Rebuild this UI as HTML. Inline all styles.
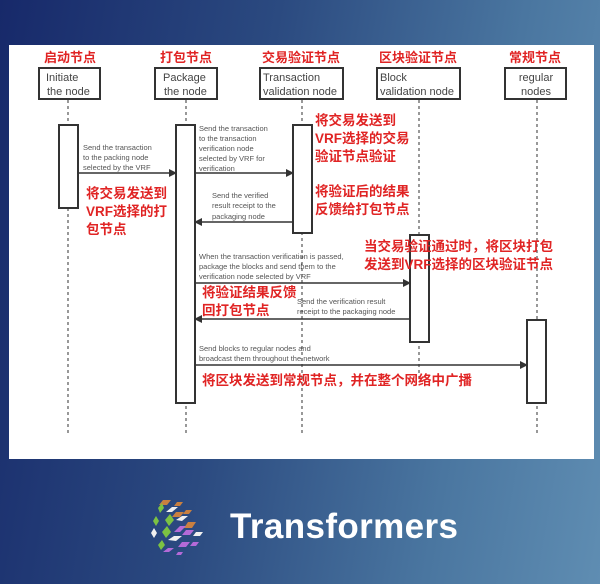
<!DOCTYPE html>
<html><head><meta charset="utf-8"><style>
html,body{margin:0;padding:0}
body{width:600px;height:584px;overflow:hidden;position:relative;background:linear-gradient(100deg,#17296a 0%,#2b4a80 40%,#4a76a0 75%,#5f8db2 100%);font-family:"Liberation Sans","Noto Sans CJK SC",sans-serif}
.panel{position:absolute;left:9px;top:45px;width:585px;height:414px;background:#fff}
svg{position:absolute;left:0;top:0}
</style></head><body>
<div class="panel"></div>
<svg width="600" height="584" viewBox="0 0 600 584">
<defs><marker id="a" markerWidth="8" markerHeight="8" refX="7" refY="4" orient="auto" markerUnits="userSpaceOnUse"><path d="M0,0 L8,4 L0,8 z" fill="#333"/></marker></defs>
<g font-family="Liberation Sans, Noto Sans CJK SC, sans-serif" font-weight="bold" fill="#e02424" font-size="13" text-anchor="middle">
<text x="70" y="62">启动节点</text><text x="186" y="62">打包节点</text><text x="301" y="62">交易验证节点</text><text x="418" y="62">区块验证节点</text><text x="535" y="62">常规节点</text>
</g>
<g stroke="#333" stroke-width="2" fill="#fff">
<rect x="39" y="68" width="61" height="31"/><rect x="155" y="68" width="62" height="31"/><rect x="260" y="68" width="83" height="31"/><rect x="377" y="68" width="83" height="31"/><rect x="505" y="68" width="61" height="31"/>
</g>
<g font-size="11" fill="#444">
<text x="46" y="81">Initiate</text><text x="47" y="95">the node</text>
<text x="163" y="81">Package</text><text x="164" y="95">the node</text>
<text x="263" y="81">Transaction</text><text x="263" y="95">validation node</text>
<text x="380" y="81">Block</text><text x="380" y="95">validation node</text>
<text x="536" y="81" text-anchor="middle">regular</text><text x="536" y="95" text-anchor="middle">nodes</text>
</g>
<g stroke="#555" stroke-width="1.2" stroke-dasharray="3,3">
<line x1="68" y1="100" x2="68" y2="436"/><line x1="186" y1="100" x2="186" y2="436"/><line x1="302" y1="100" x2="302" y2="436"/><line x1="419" y1="100" x2="419" y2="380"/><line x1="537" y1="100" x2="537" y2="436"/>
</g>
<g stroke="#333" stroke-width="2" fill="#fff">
<rect x="59" y="125" width="19" height="83"/><rect x="176" y="125" width="19" height="278"/><rect x="293" y="125" width="19" height="108"/><rect x="410" y="235" width="19" height="107"/><rect x="527" y="320" width="19" height="83"/>
</g>
<g stroke="#333" stroke-width="1.5" marker-end="url(#a)">
<line x1="79" y1="173" x2="176" y2="173"/><line x1="195" y1="173" x2="293" y2="173"/><line x1="293" y1="222" x2="195" y2="222"/><line x1="195" y1="283" x2="410" y2="283"/><line x1="410" y1="319" x2="195" y2="319"/><line x1="195" y1="365" x2="527" y2="365"/>
</g>
<g font-size="7.5" fill="#555">
<text x="83" y="150">Send the transaction</text><text x="83" y="160">to the packing node</text><text x="83" y="170">selected by the VRF</text>
<text x="199" y="131">Send the transaction</text><text x="199" y="141">to the transaction</text><text x="199" y="151">verification node</text><text x="199" y="161">selected by VRF for</text><text x="199" y="171">verification</text>
<text x="212" y="198">Send the verified</text><text x="212" y="208">result receipt to the</text><text x="212" y="219">packaging node</text>
<text x="199" y="259">When the transaction verification is passed,</text><text x="199" y="269">package the blocks and send them to the</text><text x="199" y="279">verification node selected by VRF</text>
<text x="297" y="304">Send the verification result</text><text x="297" y="314">receipt to the packaging node</text>
<text x="199" y="351">Send blocks to regular nodes and</text><text x="199" y="361">broadcast them throughout the network</text>
</g>
<g font-family="Liberation Sans, Noto Sans CJK SC, sans-serif" font-weight="bold" fill="#e02424" font-size="13.5">
<text x="86" y="198">将交易发送到</text><text x="86" y="216">VRF选择的打</text><text x="86" y="234">包节点</text>
<text x="315" y="125">将交易发送到</text><text x="315" y="143">VRF选择的交易</text><text x="315" y="161">验证节点验证</text>
<text x="315" y="196">将验证后的结果</text><text x="315" y="214">反馈给打包节点</text>
<text x="364" y="251">当交易验证通过时，将区块打包</text><text x="364" y="269">发送到VRF选择的区块验证节点</text>
<text x="202" y="297">将验证结果反馈</text><text x="202" y="315">回打包节点</text>
<text x="202" y="385">将区块发送到常规节点，并在整个网络中广播</text>
</g>
<g>
<rect x="160" y="498" width="8" height="5" fill="#c98040" transform="skewX(-30)" />
<polygon points="163,500 171,500 167,505 159,505" fill="#c98040"/>
<polygon points="177,502 183,502 180,506 174,506" fill="#c98040"/>
<polygon points="158,508 162,503 164,508 160,513" fill="#7cc243"/>
<polygon points="166,512 172,507 178,507 172,512" fill="#f0f0f0"/>
<polygon points="176,512 184,512 180,517 172,517" fill="#c98040"/>
<polygon points="186,510 192,510 189,514 183,514" fill="#c98040"/>
<polygon points="165,520 170,514 174,520 169,526" fill="#7cc243"/>
<polygon points="176,520 182,516 188,516 182,521" fill="#f0f0f0"/>
<polygon points="188,522 196,522 192,528 184,528" fill="#c98040"/>
<polygon points="153,521 156,516 159,521 156,526" fill="#7cc243"/>
<polygon points="174,532 180,526 186,526 180,532" fill="#b46ad8"/>
<polygon points="186,530 194,530 190,535 182,535" fill="#b46ad8"/>
<polygon points="196,532 203,532 200,536 193,536" fill="#f0f0f0"/>
<polygon points="162,532 167,526 171,532 166,538" fill="#7cc243"/>
<polygon points="151,533 154,528 157,533 154,538" fill="#f0f0f0"/>
<polygon points="168,540 174,536 182,536 176,541" fill="#f0f0f0"/>
<polygon points="182,542 190,542 186,547 178,547" fill="#b46ad8"/>
<polygon points="193,542 199,542 196,546 190,546" fill="#b46ad8"/>
<polygon points="158,545 162,540 165,545 161,550" fill="#7cc243"/>
<polygon points="163,552 168,548 174,548 169,552" fill="#b46ad8"/>
<polygon points="178,552 183,552 181,555 176,555" fill="#b46ad8"/>
</g>
<text x="230" y="538" font-family="Liberation Sans, sans-serif" font-size="35" font-weight="bold" fill="#fff" textLength="228">Transformers</text>
</svg>
</body></html>
